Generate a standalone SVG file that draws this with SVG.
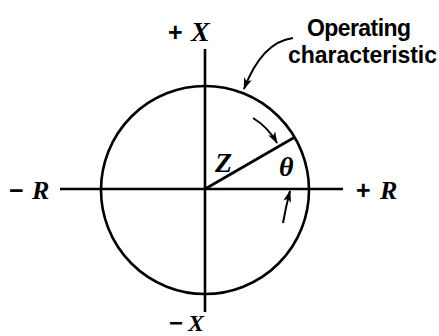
<svg xmlns="http://www.w3.org/2000/svg" width="439" height="336" viewBox="0 0 439 336">
<style>
.ln{fill:none;stroke:#000;stroke-width:2.6;stroke-linecap:butt}
.ar{fill:none;stroke:#000;stroke-width:2}
.lab{font-family:"Liberation Serif",serif;font-weight:bold;font-style:italic;fill:#000}
.sgn{font-family:"Liberation Sans",sans-serif;font-weight:bold;fill:#000}
.note{font-family:"Liberation Sans",sans-serif;font-weight:bold;font-size:23px;fill:#000}
</style>
<defs>
<marker id="ah" markerWidth="12" markerHeight="8" refX="11" refY="4" orient="auto" markerUnits="userSpaceOnUse">
<path d="M0,0 L12,4 L0,8 L3,4 Z" fill="#000"/>
</marker>
</defs>
<g id="circle"><circle cx="205" cy="190" r="104" class="ln"/></g>
<g id="axes">
<line x1="60" y1="189" x2="343" y2="189" class="ln" stroke-width="3"/>
<line x1="205" y1="49" x2="205" y2="312" class="ln" stroke-width="3"/>
</g>
<g id="impedance"><line x1="205" y1="189" x2="295" y2="137" class="ln"/></g>
<g id="connectors">
<path d="M293,38 Q262,42 244,89" class="ar" stroke-width="2.4" marker-end="url(#ah)"/>
<path d="M253,118 Q268,127 277,143" class="ar" marker-end="url(#ah)"/>
<path d="M283,223 Q286,206 290,191" class="ar" marker-end="url(#ah)"/>
</g>
<g id="labels">
<text x="168" y="41" class="sgn" font-size="25">+</text>
<text x="191" y="41" class="lab" font-size="28">X</text>
<text x="169" y="331" class="sgn" font-size="24">−</text>
<text x="188" y="331" class="lab" font-size="24">X</text>
<text x="9" y="199" class="sgn" font-size="25">−</text>
<text x="32" y="199" class="lab" font-size="26">R</text>
<text x="356" y="199" class="sgn" font-size="25">+</text>
<text x="380" y="199" class="lab" font-size="26">R</text>
<text x="215" y="172" class="lab" font-size="28">Z</text>
<text x="279" y="176" class="lab" font-size="28">θ</text>
</g>
<g id="note">
<text x="307" y="36" class="note" textLength="104">Operating</text>
<text x="288" y="63" class="note" textLength="149">characteristic</text>
</g>
</svg>
